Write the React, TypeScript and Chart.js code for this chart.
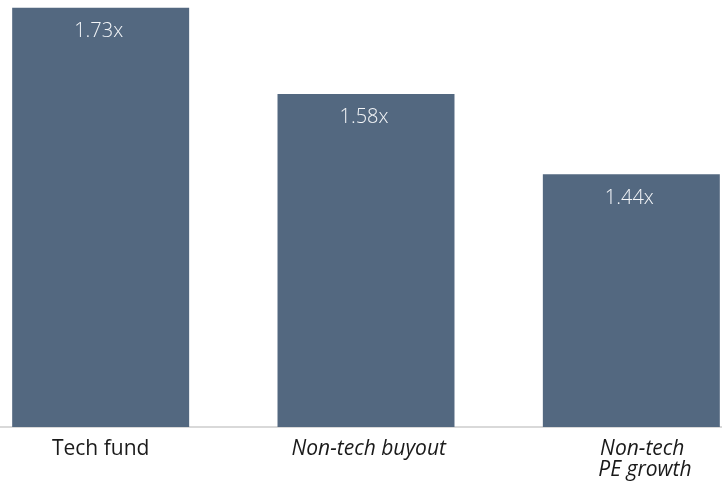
import React, { useEffect, useRef } from "react";
import { Chart, registerables } from "chart.js";

Chart.register(...registerables);

const categories: (string | string[])[] = ["Tech fund", " Non-tech buyout", ["    Non-tech", "     PE growth"]];
const multiples: number[] = [1.73, 1.58, 1.44];
const valueLabels: string[] = ["1.73x", "1.58x", "1.44x"];

const FONT = "'Open Sans', 'DejaVu Sans', sans-serif";

const valueLabelPlugin = {
  id: "valueLabels",
  afterDatasetsDraw(chart: any) {
    const ctx = chart.ctx;
    const meta = chart.getDatasetMeta(0);
    ctx.save();
    ctx.fillStyle = "#f4f6f8";
    ctx.font = `300 20px ${FONT}`;
    ctx.textAlign = "center";
    ctx.textBaseline = "alphabetic";
    meta.data.forEach((bar: any, i: number) => {
      ctx.fillText(valueLabels[i], bar.x - 2, bar.y + 29.5);
    });
    ctx.restore();
  },
};

export default function App() {
  const ref = useRef<HTMLCanvasElement>(null);
  useEffect(() => {
    if (!ref.current) return;
    const chart = new Chart(ref.current, {
      type: "bar",
      data: {
        labels: categories,
        datasets: [
          {
            data: multiples,
            backgroundColor: "#536880",
            borderWidth: 0,
            categoryPercentage: 1,
            barPercentage: 0.667,
          },
        ],
      },
      options: {
        responsive: false,
        animation: false,
        devicePixelRatio: 1,
        layout: { padding: { top: 2, left: 0, right: 0, bottom: 0 } },
        plugins: { legend: { display: false }, tooltip: { enabled: false } },
        scales: {
          x: {
            grid: { display: false },
            border: { display: true, color: "#d9d9d9", width: 2 },
            ticks: {
              color: "#1a1a1a",
              padding: 3,
              maxRotation: 0,
              autoSkip: false,
              font: (c: any) => ({
                family: FONT,
                size: 21,
                style: c.index > 0 ? "italic" : "normal",
                lineHeight: 1.02,
              }),
            },
            afterFit: (scale: any) => {
              scale.height = 59;
            },
          },
          y: {
            display: false,
            min: 1.0,
            max: 1.74,
          },
        },
      },
      plugins: [valueLabelPlugin],
    });
    return () => chart.destroy();
  }, []);
  return (
    <div
      style={{
        position: "fixed",
        left: 0,
        top: 0,
        width: 722,
        height: 486,
        overflow: "hidden",
        background: "#ffffff",
      }}
    >
      <canvas
        ref={ref}
        width={796}
        height={486}
        style={{ position: "absolute", left: -32, top: 0, width: 796, height: 486 }}
      />
    </div>
  );
}
